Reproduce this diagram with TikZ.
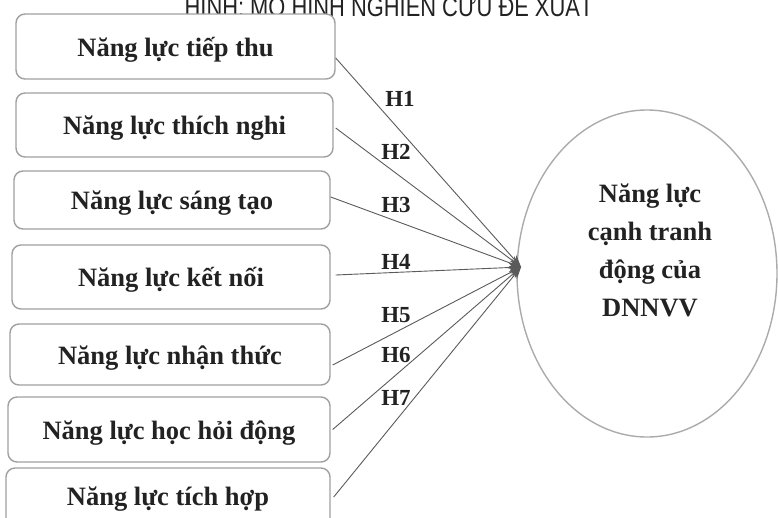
\documentclass[tikz,border=0pt]{standalone}
\usepackage{fontspec}
\setmainfont{Liberation Serif}
\setsansfont{Liberation Sans}
\usetikzlibrary{arrows.meta,shapes.geometric}
\definecolor{boxline}{HTML}{A0A0A0}
\definecolor{arrline}{HTML}{5A5A5A}
\definecolor{ellline}{HTML}{ABABAB}
\definecolor{txt}{HTML}{222222}
\tikzset{
  boxtext/.style={font=\fontsize{26.5}{30}\selectfont\bfseries, text=txt, inner sep=0pt,
    text height=24pt, text depth=5pt},
  stepbox/.style={boxtext, draw=boxline, line width=1.4pt, rounded corners=9pt, fill=white},
  hlab/.style={font=\fontsize{23}{26}\selectfont\bfseries, text=txt, inner sep=0pt},
  conn/.style={draw=arrline, line width=0.9pt, -{Stealth[length=12pt,width=9pt]}},
}
\begin{document}
\begin{tikzpicture}[x=1pt,y=-1pt]
\useasboundingbox (0,0) rectangle (778,517);
% title (cut by the top edge, as in the reference)
\node[font=\fontsize{27}{27}\sffamily, text=txt, xscale=0.81, anchor=base, inner sep=0pt] (title) at (389,16) {HÌNH: MÔ HÌNH NGHIÊN CỨU ĐỀ XUẤT};
% boxes
\node[stepbox, minimum width=319pt, minimum height=65pt] (b1) at (175.5,46.5) {Năng lực tiếp thu};
\node[stepbox, minimum width=317pt, minimum height=64pt] (b2) at (174.5,125) {Năng lực thích nghi};
\node[stepbox, minimum width=316pt, minimum height=58pt] (b3) at (172,200) {Năng lực sáng tạo};
\node[stepbox, minimum width=318pt, minimum height=64pt] (b4) at (171,277) {Năng lực kết nối};
\node[stepbox, minimum width=320pt, minimum height=61pt] (b5) at (170,354.5) {Năng lực nhận thức};
\node[stepbox, minimum width=322pt, minimum height=65pt] (b6) at (169,429.5) {Năng lực học hỏi động};
\node[stepbox, minimum width=324pt, minimum height=70pt] (b7) at (168,503) {};
\node[boxtext] (t7) at (168,495.5) {Năng lực tích hợp};
% ellipse
\node[ellipse, draw=ellline, line width=1.4pt, minimum width=260pt, minimum height=327pt, inner sep=0pt] (ell) at (647,273.5) {};
\node[font=\fontsize{26.5}{38}\selectfont\bfseries, text=txt, align=center, inner sep=0pt] (etext) at (650,250) {Năng lực\\cạnh tranh\\động của\\DNNVV};
\coordinate (tip) at (521,267);
% connectors
\draw[conn] ([yshift=-11.5pt]b1.east) -- (tip);
\draw[conn] ([xshift=2pt,yshift=-3pt]b2.east) -- (tip);
\draw[conn] ([yshift=3pt]b3.east) -- (tip);
\draw[conn] ([xshift=5pt,yshift=2pt]b4.east) -- (tip);
\draw[conn] ([xshift=2pt,yshift=-10.5pt]b5.east) -- (tip);
\draw[conn] ([xshift=2pt]b6.east) -- (tip);
\draw[conn] ([xshift=3pt,yshift=6pt]b7.east) -- (tip);
% labels
\node[hlab] (h1) at (400,99) {H1};
\node[hlab] (h2) at (396,152) {H2};
\node[hlab] (h3) at (396,205) {H3};
\node[hlab] (h4) at (396,262) {H4};
\node[hlab] (h5) at (396,315) {H5};
\node[hlab] (h6) at (396,355) {H6};
\node[hlab] (h7) at (396,398) {H7};
\end{tikzpicture}
\end{document}
